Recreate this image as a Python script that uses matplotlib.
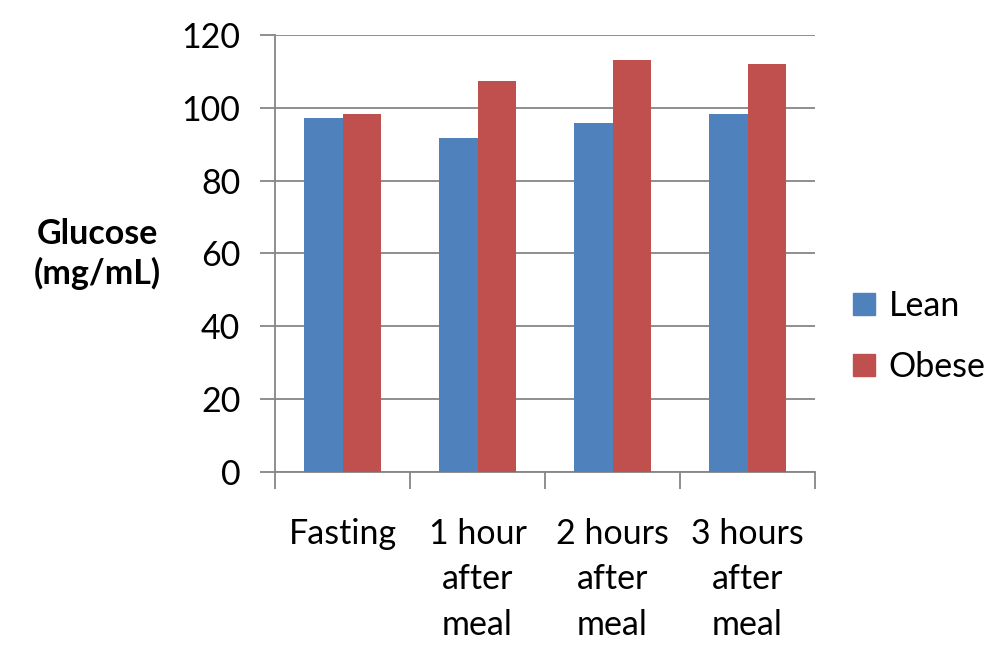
import numpy as np
import matplotlib
matplotlib.use("Agg")
import matplotlib.pyplot as plt
from matplotlib.patches import Patch

plt.rcParams["font.family"] = ["Lato", "DejaVu Sans"]

categories = ["Fasting", "1 hour\nafter\nmeal", "2 hours\nafter\nmeal", "3 hours\nafter\nmeal"]
lean = [97.1, 91.6, 95.7, 98.2]
obese = [98.2, 107.5, 113.0, 111.9]
yticks = [0, 20, 40, 60, 80, 100, 120]

blue = "#4f81bd"
red = "#c0504d"
grey = "#868686"

fig = plt.figure(figsize=(10.02, 6.69), dpi=100)
ax = fig.add_axes([0.2745, 0.2945, 0.5389, 0.6532])

x = np.arange(len(categories))
w = 0.2857
ax.bar(x - w / 2, lean, w, color=blue, zorder=3)
ax.bar(x + w / 2, obese, w, color=red, zorder=3)

ax.set_xlim(-0.5, len(categories) - 0.5)
ax.set_ylim(0, 120)
ax.set_yticks(yticks)
ax.yaxis.grid(True, color=grey, lw=1.3, zorder=0)
ax.set_axisbelow(True)

ax.set_xticks(np.arange(len(categories) + 1) - 0.5)
ax.set_xticklabels([])
ax.set_xticks(x, minor=True)
ax.set_xticklabels(categories, minor=True, fontsize=24.5, linespacing=1.52, va="top")
ax.tick_params(axis="x", which="minor", length=0, pad=33)
ax.tick_params(axis="x", which="major", length=12, width=1.3, color=grey, direction="out")
ax.tick_params(axis="y", length=11, width=1.3, color=grey, direction="out", labelsize=24.5, pad=14)

for s in ["top", "right"]:
    ax.spines[s].set_visible(False)
for s in ["left", "bottom"]:
    ax.spines[s].set_color(grey)
    ax.spines[s].set_linewidth(1.3)

fig.text(0.097, 0.62, "Glucose\n(mg/mL)", fontsize=24.5, fontweight="bold",
         ha="center", va="center", linespacing=1.25)

handles = [Patch(color=blue, label="Lean"), Patch(color=red, label="Obese")]
fig.legend(handles=handles, loc="center left", bbox_to_anchor=(0.851, 0.497),
           frameon=False, fontsize=24.5, handlelength=0.65, handleheight=0.65,
           handletextpad=0.4, labelspacing=0.85, borderpad=0, borderaxespad=0)

fig.savefig("out.png", dpi=100)
